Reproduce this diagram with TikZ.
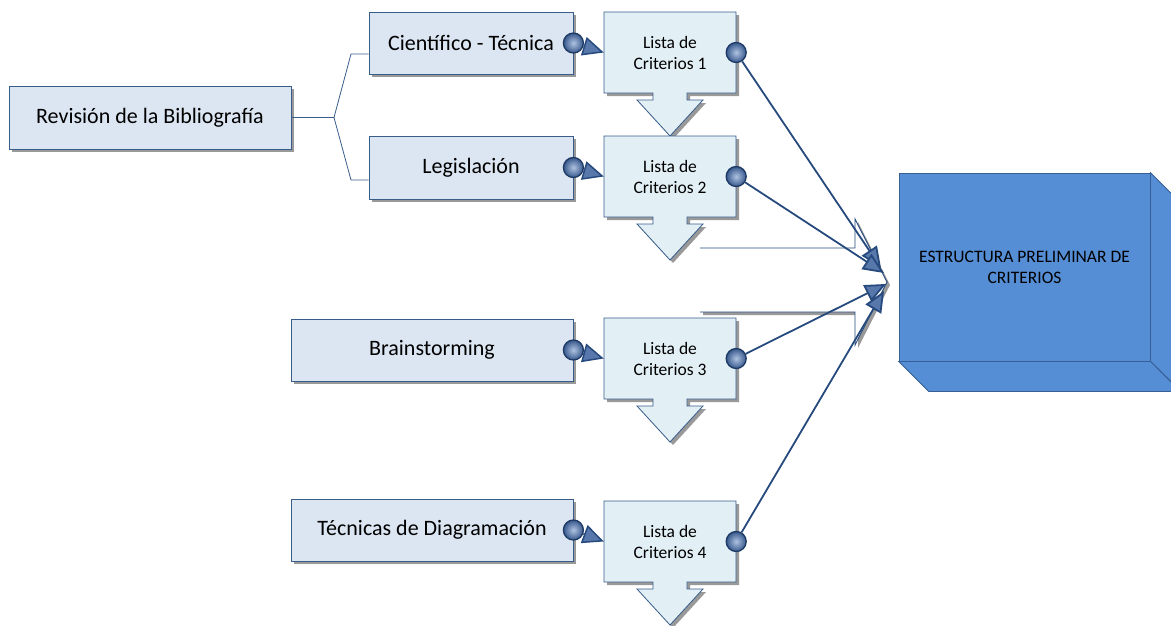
\documentclass[tikz,border=0pt]{standalone}
\usepackage{fontspec}
\setmainfont{Carlito}
\usetikzlibrary{arrows.meta,shadows,calc}

\definecolor{boxfill}{RGB}{220,230,242}
\definecolor{boxline}{RGB}{56,93,138}
\definecolor{listfill}{RGB}{226,239,245}
\definecolor{linkblue}{RGB}{38,74,125}
\definecolor{tipfill}{RGB}{88,120,172}
\definecolor{cubefill}{RGB}{85,142,213}
\definecolor{cubeline}{RGB}{55,96,150}
\definecolor{balllight}{RGB}{175,195,225}
\definecolor{balldark}{RGB}{55,88,140}
\definecolor{portline}{RGB}{30,58,100}

\tikzset{
  shade3/.style={drop shadow={shadow xshift=3pt, shadow yshift=-3pt, fill=black!40, opacity=1}},
  srcbox/.style={draw=boxline, fill=boxfill, line width=0.8pt, shade3,
    font=\fontsize{22}{26}\selectfont, minimum height=63pt, inner sep=0pt},
  listtext/.style={font=\fontsize{17.5}{21}\selectfont, align=center,
    minimum width=132pt, minimum height=81pt, inner sep=0pt},
  listshape/.style={draw=boxline, fill=listfill, line width=0.8pt, shade3},
  port/.style={circle, minimum size=20pt, inner sep=0pt, draw=portline,
    shading=radial, inner color=balllight, outer color=balldark, line width=1.3pt},
  feed/.style={draw=linkblue, line width=1.5pt,
    -{Triangle[length=21pt,width=19pt,fill=tipfill]}},
  link/.style={draw=linkblue, line width=1.8pt,
    -{Triangle[length=21pt,width=18pt,fill=tipfill]}},
  bracket/.style={draw=boxline, line width=0.8pt},
  cubefront/.style={draw=cubeline, fill=cubefill, line width=0.8pt,
    minimum width=251pt, minimum height=188pt, inner sep=0pt, align=center,
    font=\fontsize{17.5}{21}\selectfont},
  cubeface/.style={draw=cubeline, fill=cubefill, line width=0.8pt},
  bigarrow/.style={draw=linkblue, fill=white, line width=0.9pt, shade3}
}

% list outline: box with a downward block arrow, #1 = left x, #2 = top y
\newcommand\listfig[2]{%
  \path[listshape] (#1,#2) -- ++(132,0) -- ++(0,81) -- ++(-49,0) -- ++(0,7)
    -- ++(16,0) -- ++(-33,36) -- ++(-33,-36) -- ++(16,0) -- ++(0,-7)
    -- ++(-49,0) -- cycle;}

\begin{document}
\begin{tikzpicture}[x=1pt,y=-1pt]
\useasboundingbox (0,0) rectangle (1171,625);

% wide hollow arrow pointing at the result block
\path[bigarrow] (700,248) -- (855,248) -- (855,219) -- (887,282)
  -- (855,345) -- (855,312) -- (700,312);

% source boxes
\node[srcbox, minimum width=282pt] (rev) at (150,117.5) {Revisión de la Bibliografía};
\node[srcbox, minimum width=204pt, minimum height=62pt] (cien) at (471,43) {Científico - Técnica};
\node[srcbox, minimum width=204pt] (leg) at (471,167.5) {Legislación};
\node[srcbox, minimum width=282pt, minimum height=62pt] (brain) at (432,350) {Brainstorming};
\node[srcbox, minimum width=282pt, minimum height=62pt] (tec) at (432,530) {Técnicas de Diagramación};

% criteria lists
\listfig{604}{12}
\node[listtext] (l1) at (670,52.5) {Lista de\\Criterios 1};
\listfig{604}{136}
\node[listtext] (l2) at (670,176.5) {Lista de\\Criterios 2};
\listfig{604}{318}
\node[listtext] (l3) at (670,358.5) {Lista de\\Criterios 3};
\listfig{604}{501}
\node[listtext] (l4) at (670,541.5) {Lista de\\Criterios 4};

% result block
\node[cubefront] (est) at (1024.5,267) {ESTRUCTURA PRELIMINAR DE\\CRITERIOS};
\path[cubeface] (est.north east) -- ++(30,30) -- ++(0,188) -- (est.south east) -- cycle;
\path[cubeface] (est.south west) -- (est.south east) -- ++(30,30)
  -- ($(est.south west)+(30,30)$) -- cycle;

% bracket from the literature review
\coordinate (fork) at (334,117.5);
\coordinate (j1) at (351,54);
\coordinate (j2) at (351,180);
\draw[bracket] (rev.east) -- (fork) -- (j1) -- (j1 -| cien.west);
\draw[bracket] (fork) -- (j2) -- (j2 -| leg.west);

% ports
\node[port] (o1) at (cien.east) {};
\node[port] (o2) at (leg.east) {};
\node[port] (o3) at (brain.east) {};
\node[port] (o4) at (tec.east) {};
\node[port] (p1) at (l1.east) {};
\node[port] (p2) at (l2.east) {};
\node[port] (p3) at (l3.east) {};
\node[port] (p4) at (l4.east) {};

% feeds into the lists
\draw[feed] (o1) -- (l1.west);
\draw[feed] (o2) -- (l2.west);
\draw[feed] (o3) -- (l3.west);
\draw[feed] (o4) -- (l4.west);

% links into the result
\coordinate (t1) at (881,268);
\coordinate (t2) at (884,273);
\coordinate (t3) at (886,284);
\coordinate (t4) at (884,291);
\draw[link] (p1) -- (t1);
\draw[link] (p2) -- (t2);
\draw[link] (p3) -- (t3);
\draw[link] (p4) -- (t4);
\end{tikzpicture}
\end{document}
